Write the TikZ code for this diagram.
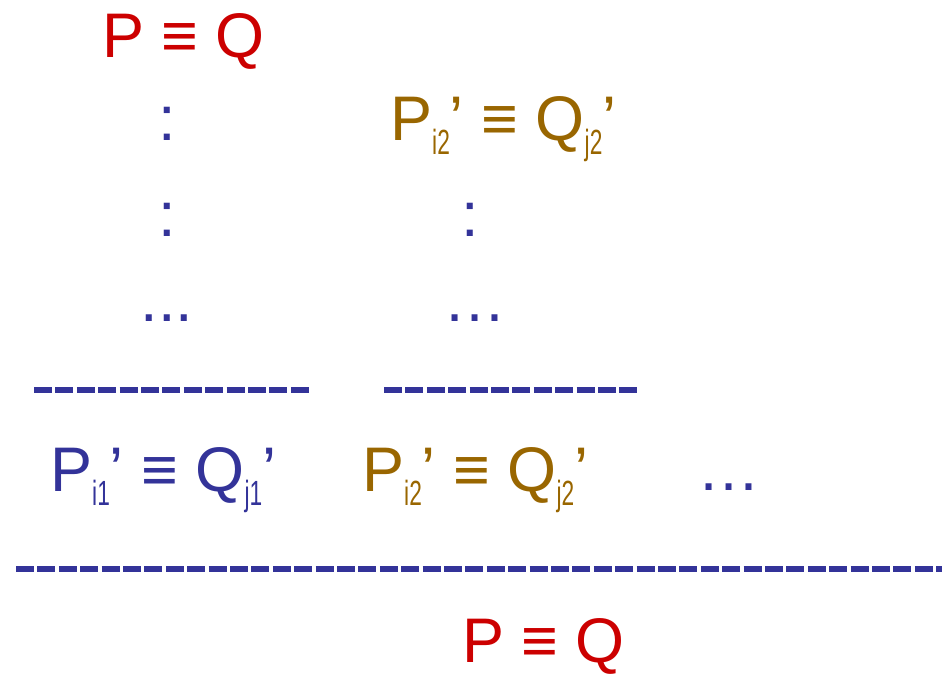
\documentclass[tikz,border=0pt]{standalone}
\usepackage{fontspec}
\setmainfont{Liberation Sans}
\usepackage{xcolor}
\usetikzlibrary{positioning}

\definecolor{goalred}{RGB}{204,0,0}
\definecolor{ruleblue}{RGB}{51,51,153}
\definecolor{stepbrown}{RGB}{153,102,0}

% lowered, narrow index
\newcommand{\subidx}[1]{\raisebox{-14pt}{\fontsize{35}{40}\selectfont\scalebox{0.65}[1]{#1}}}
\newcommand{\primeeq}[2]{P\subidx{#1}’ ≡ Q\subidx{#2}’}

\begin{document}
\begin{tikzpicture}[
  x=1pt, y=-1pt,
  every node/.style={inner sep=0pt, font=\fontsize{63}{70}\selectfont},
  rule/.style={ruleblue, line width=6pt, dash pattern=on 18pt off 3.4pt}
]
\useasboundingbox (0,0) rectangle (942,673);

% Left branch
\node[anchor=base west, goalred] (goal) at (102,57) {P ≡ Q};
\node[anchor=base, ruleblue] (colA) at (167,140) {:};
\node[anchor=base, ruleblue] (colB) at (167,236) {:};
\node[anchor=base, ruleblue] (dotsA) at (167,321) {...};

% Right branch
\node[anchor=base west, stepbrown] (subB) at (390,140) {\primeeq{i2}{j2}};
\node[anchor=base, ruleblue] (colC) at (470,236) {:};
\node[anchor=base, ruleblue] (dotsB) at (475,321) {…};

% Rules
\draw[rule] (34,390) -- (309,390);
\draw[rule] (384,390) -- (637,390);

% Premises
\node[anchor=base west, ruleblue] (stepA) at (50,491) {\primeeq{i1}{j1}};
\node[anchor=base west, stepbrown] (stepB) at (362,491) {\primeeq{i2}{j2}};
\node[anchor=base, ruleblue] (dotsC) at (729,490) {…};

% Final rule
\draw[rule] (16,569) -- (942,569);
\node[anchor=base west, goalred] (root) at (462,662) {P ≡ Q};

\end{tikzpicture}
\end{document}
